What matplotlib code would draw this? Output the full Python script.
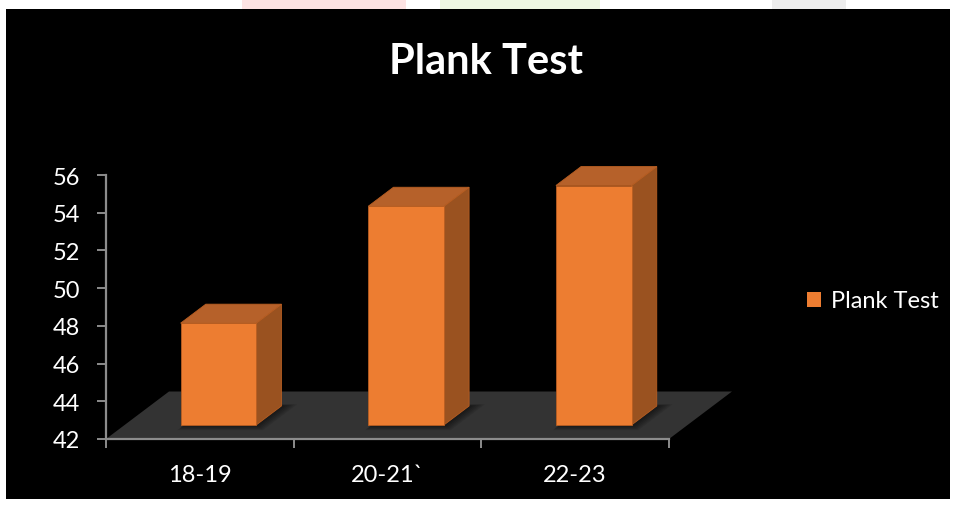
import matplotlib
matplotlib.use("Agg")
import matplotlib.pyplot as plt
from matplotlib.patches import Polygon, Rectangle, Patch

# Data
categories = ["18-19", "20-21`", "22-23"]
values = [47.4, 53.6, 54.7]
series_name = "Plank Test"
y_ticks = [42, 44, 46, 48, 50, 52, 54, 56]

FRONT = "#ED7D31"
TOP = "#B6612A"
SIDE = "#9A5220"
EDGE = "#B85E22"
FLOOR = "#333333"
AXIS = "#8C8C8C"

plt.rcParams["font.family"] = ["Lato", "DejaVu Sans"]

W, H = 956, 506
fig = plt.figure(figsize=(W / 100, H / 100), dpi=100, facecolor="white")


def fx(px):
    return px / W


def fy(py):
    return 1 - py / H


# page background: black panel with faint decorations along the top edge
bg = fig.add_axes([0, 0, 1, 1], zorder=0)
bg.set_xlim(0, W)
bg.set_ylim(H, 0)
bg.axis("off")
bg.add_patch(Rectangle((6, 10), 944, 490, facecolor="black", edgecolor="none"))
for x0, x1, c in [(242, 406, "#FDE3E3"), (440, 600, "#EEF7E3"), (772, 846, "#EDEDED")]:
    bg.add_patch(Rectangle((x0, 0), x1 - x0, 10, facecolor=c, edgecolor="none"))

ax = fig.add_axes([fx(106), fy(440), fx(669) - fx(106), fy(176) - fy(440)], zorder=2)
ax.set_xlim(-0.5, len(categories) - 0.5)
ax.set_ylim(y_ticks[0], y_ticks[-1])
ax.patch.set_visible(False)

# oblique projection of the depth axis (in data units)
DX = 63 / 187.7
DY = 47.5 / 18.857
base = y_ticks[0]


def proj(x, y, d):
    return (x + d * DX, y + d * DY)


# floor
x_lo, x_hi = -0.5, len(categories) - 0.5
floor = Polygon([proj(x_lo, base, 0), proj(x_hi, base, 0),
                 proj(x_hi, base, 1), proj(x_lo, base, 1)],
                closed=True, facecolor=FLOOR, edgecolor="none", zorder=1, clip_on=False)
ax.add_patch(floor)

w = 0.403
d0, d1 = 0.295, 0.695
for i, v in enumerate(values):
    xl, xr = i - w / 2, i + w / 2
    # soft shadow on the floor
    for k in range(6):
        e = 0.012 * (k + 1)
        sh = Polygon([proj(xl + 0.02, base, d0 - e * 1.5), proj(xr + e, base, d0 - e * 1.5),
                      proj(xr + e, base, d1 + e * 0.5), proj(xl + 0.02, base, d1 + e * 0.5)],
                     closed=True, facecolor="black", edgecolor="none", alpha=0.1,
                     zorder=2, clip_on=False)
        ax.add_patch(sh)
    front = Polygon([proj(xl, base, d0), proj(xr, base, d0),
                     proj(xr, v, d0), proj(xl, v, d0)],
                    closed=True, facecolor=FRONT, edgecolor=EDGE, lw=0.6,
                    zorder=4, clip_on=False)
    top = Polygon([proj(xl, v, d0), proj(xr, v, d0),
                   proj(xr, v, d1), proj(xl, v, d1)],
                  closed=True, facecolor=TOP, edgecolor=EDGE, lw=0.6,
                  zorder=3, clip_on=False)
    side = Polygon([proj(xr, base, d0), proj(xr, base, d1),
                    proj(xr, v, d1), proj(xr, v, d0)],
                   closed=True, facecolor=SIDE, edgecolor=EDGE, lw=0.6,
                   zorder=3, clip_on=False)
    for p in (side, top, front):
        ax.add_patch(p)

# axes styling
for s in ("top", "right"):
    ax.spines[s].set_visible(False)
for s in ("left", "bottom"):
    ax.spines[s].set_color(AXIS)
    ax.spines[s].set_linewidth(1.6)
    ax.spines[s].set_zorder(5)

ax.set_yticks(y_ticks)
ax.set_yticklabels([str(t) for t in y_ticks])
ax.tick_params(axis="y", colors=AXIS, labelcolor="white", labelsize=17,
               length=6.5, width=1.4, pad=12)

ax.set_xticks([x - 0.5 for x in range(len(categories) + 1)])
ax.set_xticklabels([])
ax.set_xticks(range(len(categories)), minor=True)
ax.set_xticklabels(categories, minor=True)
ax.tick_params(axis="x", which="major", colors=AXIS, length=6.5, width=1.4)
ax.tick_params(axis="x", which="minor", length=0, labelcolor="white",
               labelsize=17, pad=18)

fig.text(fx(486), fy(62), "Plank Test", ha="center", va="center",
         fontsize=30, fontweight="bold", color="white")

fig.legend(handles=[Patch(facecolor=FRONT, edgecolor="none")], labels=[series_name],
           loc="center left", bbox_to_anchor=(fx(786), fy(302)), frameon=False,
           handlelength=0.6, handleheight=0.6, handletextpad=0.4,
           fontsize=17, labelcolor="white")

fig.savefig("out.png", dpi=100, facecolor=fig.get_facecolor())
